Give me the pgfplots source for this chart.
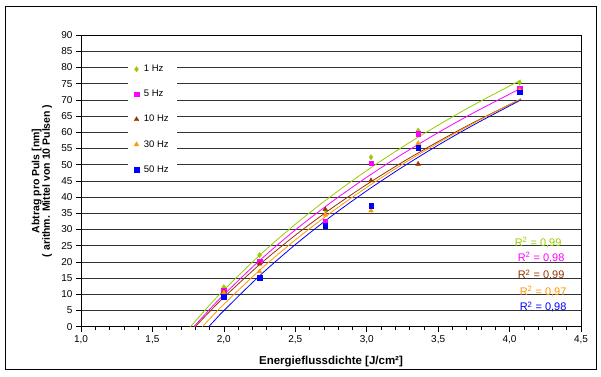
\documentclass[border=0pt]{standalone}
\usepackage{pgfplots}
\pgfplotsset{compat=1.18}
\usepackage{fontspec}
\setmainfont{Liberation Sans}
\definecolor{cGreen}{HTML}{99CC00}
\definecolor{cMag}{HTML}{FF00FF}
\definecolor{cBrown}{HTML}{993300}
\definecolor{cOrange}{HTML}{FF9900}
\definecolor{cBlue}{HTML}{0000FF}
\begin{document}
\begin{tikzpicture}
\useasboundingbox (-81pt,-49.3pt) rectangle (520pt,326.7pt);
\draw[black, line width=1pt] (-75pt,-42.3pt) rectangle (515pt,320.7pt);
\begin{axis}[
  at={(0pt,0pt)}, anchor=south west,
  scale only axis, width=500pt, height=291.7pt,
  xmin=1, xmax=4.5, ymin=0, ymax=90,
  xtick={1,1.5,2,2.5,3,3.5,4,4.5},
  minor x tick num=4,
  ytick={0,5,...,90},
  ymajorgrids,
  grid style={black!80, line width=0.6pt},
  tick align=outside, tick pos=left,
  major tick length=5pt, minor tick length=3pt,
  every tick/.style={black, line width=0.6pt},
  axis line style={black, line width=0.8pt},
  x tick label style={/pgf/number format/.cd, use comma, fixed, fixed zerofill, precision=1},
  /pgf/number format/assume math mode=true,
  tick label style={font=\fontsize{10}{12}\selectfont},
  xlabel={Energieflussdichte [J/cm²]},
  ylabel={Abtrag pro Puls [nm]\\( arithm. Mittel von 10 Pulsen )},
  every axis x label/.style={at={(axis description cs:0.5,0)}, anchor=center, yshift=-35.3pt, font=\fontsize{11.5}{14}\selectfont\bfseries},
  every axis y label/.style={at={(axis description cs:0,0.5)}, xshift=-39pt, anchor=center, rotate=90, align=center, font=\fontsize{10.5}{10.5}\selectfont\bfseries},
  legend style={at={(0.094,0.921)}, anchor=north west, draw=none, fill=white,
    font=\fontsize{9.5}{10}\selectfont, row sep=13pt, column sep=3pt, inner xsep=6pt, inner ysep=5pt},
  legend cell align=left,
]
% data points
\addplot[only marks, mark=diamond*, mark size=2.6pt, color=cGreen] coordinates {
 (2.0,12.2) (2.25,22.1) (2.71,36.0) (3.03,52.3) (3.36,60.5) (4.07,75.3)};
\addlegendentry{1 Hz}
\addplot[only marks, mark=square*, mark size=2.3pt, color=cMag] coordinates {
 (2.0,11.1) (2.25,20.2) (2.71,32.6) (3.03,50.4) (3.36,59.5) (4.07,73.5)};
\addlegendentry{5 Hz}
\addplot[only marks, mark=triangle*, mark size=2.7pt, color=cBrown] coordinates {
 (2.0,10.8) (2.25,19.4) (2.71,36.2) (3.03,45.1) (3.36,50.2) (4.07,72.0)};
\addlegendentry{10 Hz}
\addplot[only marks, mark=triangle*, mark size=2.7pt, color=cOrange] coordinates {
 (2.0,10.5) (2.25,17.0) (2.71,34.5) (3.03,35.8) (3.36,56.6) (4.07,73.0)};
\addlegendentry{30 Hz}
\addplot[only marks, mark=square*, mark size=2.3pt, color=cBlue] coordinates {
 (2.0,9.3) (2.25,15.1) (2.71,31.2) (3.03,37.3) (3.36,55.3) (4.07,72.3)};
\addlegendentry{50 Hz}
% trend lines (logarithmic)
\addplot[forget plot, smooth, no marks, color=cGreen, line width=0.8pt] coordinates {
 (1.766,0) (1.9,6.65) (2.0,11.31) (2.25,22.02) (2.5,31.60) (2.75,40.26) (3.0,48.17) (3.25,55.45) (3.5,62.18) (3.75,68.46) (4.08,76.12)};
\addplot[forget plot, smooth, no marks, color=cMag, line width=0.8pt] coordinates {
 (1.79,0) (1.9,5.33) (2.0,9.90) (2.25,20.42) (2.5,29.84) (2.75,38.35) (3.0,46.11) (3.25,53.27) (3.5,59.88) (3.75,66.05) (4.08,73.57)};
\addplot[forget plot, smooth, no marks, color=cBrown, line width=0.8pt] coordinates {
 (1.80,0) (1.9,4.65) (2.0,9.05) (2.25,19.16) (2.5,28.22) (2.75,36.40) (3.0,43.88) (3.25,50.76) (3.5,57.12) (3.75,63.05) (4.08,70.29)};
\addplot[forget plot, smooth, no marks, color=cOrange, line width=0.8pt] coordinates {
 (1.85,0) (1.9,2.37) (2.0,6.93) (2.25,17.40) (2.5,26.77) (2.75,35.24) (3.0,42.97) (3.25,50.10) (3.5,56.68) (3.75,62.82) (4.08,70.31)};
\addplot[forget plot, smooth, no marks, color=cBlue, line width=0.8pt] coordinates {
 (1.894,0) (1.95,2.65) (2.0,4.96) (2.25,15.70) (2.5,25.32) (2.75,34.01) (3.0,41.94) (3.25,49.25) (3.5,56.01) (3.75,62.30) (4.08,69.99)};
% R^2 labels
\node[anchor=east, text=cGreen, font=\fontsize{11}{12}\selectfont] at (axis cs:4.388,26.1) {R\textsuperscript{2} = 0,99};
\node[anchor=east, text=cMag, font=\fontsize{11}{12}\selectfont] at (axis cs:4.409,21.35) {R\textsuperscript{2} = 0,98};
\node[anchor=east, text=cBrown, font=\fontsize{11}{12}\selectfont] at (axis cs:4.409,15.95) {R\textsuperscript{2} = 0,99};
\node[anchor=east, text=cOrange, font=\fontsize{11}{12}\selectfont] at (axis cs:4.423,11.0) {R\textsuperscript{2} = 0,97};
\node[anchor=east, text=cBlue, font=\fontsize{11}{12}\selectfont] at (axis cs:4.423,6.08) {R\textsuperscript{2} = 0,98};
\end{axis}
\end{tikzpicture}
\end{document}
